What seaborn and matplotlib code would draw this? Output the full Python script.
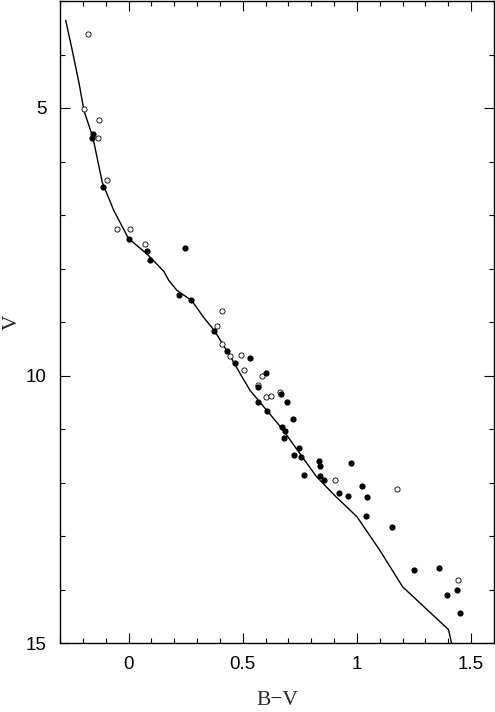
import numpy as np
import pandas as pd
import matplotlib
matplotlib.use("Agg")
import matplotlib.pyplot as plt
import seaborn as sns
from matplotlib.ticker import MultipleLocator

# open circles (B-V, V)
open_bv = [-0.176, -0.195, -0.129, -0.134, -0.096, -0.052, 0.006, 0.070, 0.411, 0.389,
           0.411, 0.445, 0.494, 0.506, 0.584, 0.568, 0.603, 0.622, 0.664, 0.904, 1.174, 1.443]
open_v = [3.61, 5.01, 5.23, 5.56, 6.35, 7.27, 7.27, 7.55, 8.79, 9.07,
          9.41, 9.64, 9.62, 9.90, 10.01, 10.17, 10.41, 10.39, 10.31, 11.96, 12.12, 13.82]

# filled circles
filled_bv = [-0.156, -0.160, -0.113, 0.001, 0.081, 0.092, 0.248, 0.222, 0.275, 0.376,
             0.432, 0.465, 0.530, 0.600, 0.568, 0.668, 0.692, 0.568, 0.607, 0.718,
             0.670, 0.683, 0.680, 0.748, 0.725, 0.757, 0.770, 0.836, 0.840, 0.838,
             0.856, 0.976, 0.921, 0.960, 1.023, 1.043, 1.040, 1.154, 1.251, 1.359,
             1.439, 1.395, 1.450]
filled_v = [5.48, 5.56, 6.47, 7.44, 7.68, 7.84, 7.61, 8.49, 8.58, 9.16,
            9.54, 9.77, 9.67, 9.96, 10.22, 10.34, 10.50, 10.49, 10.66, 10.82,
            10.97, 11.04, 11.16, 11.36, 11.48, 11.52, 11.86, 11.59, 11.70, 11.87,
            11.96, 11.63, 12.20, 12.25, 12.07, 12.27, 12.63, 12.83, 13.64, 13.60,
            14.00, 14.11, 14.44]

# sequence line
seq_bv = [-0.275, -0.246, -0.216, -0.195, -0.156, -0.115, -0.064, 0.0, 0.081, 0.154,
          0.176, 0.212, 0.277, 0.328, 0.376, 0.445, 0.488, 0.532, 0.607, 0.677,
          0.750, 0.823, 0.902, 1.000, 1.099, 1.200, 1.401, 1.414]
seq_v = [3.36, 3.93, 4.55, 5.05, 5.55, 6.39, 6.92, 7.44, 7.73, 8.05,
         8.22, 8.41, 8.60, 8.91, 9.16, 9.64, 9.96, 10.28, 10.66, 11.02,
         11.46, 11.89, 12.24, 12.64, 13.26, 13.95, 14.75, 15.0]

sns.set_style("ticks")
plt.rcParams['font.family'] = ['Liberation Sans', 'DejaVu Sans']

fig = plt.figure(figsize=(4.95, 7.12), dpi=100)
ax = fig.add_axes([60/495, 69/712, 434/495, 642/712])

line_df = pd.DataFrame({"bv": seq_bv, "v": seq_v})
sns.lineplot(data=line_df, x="bv", y="v", sort=False, color="black", lw=1.0, ax=ax)

sns.scatterplot(x=open_bv, y=open_v, ax=ax, s=14, marker="o",
                facecolor="white", edgecolor="black", linewidth=0.6, zorder=3)
sns.scatterplot(x=filled_bv, y=filled_v, ax=ax, s=20, marker="o",
                color="black", linewidth=0, zorder=4)

ax.set_xlim(-0.3, 1.6)
ax.set_ylim(15, 3)

ax.xaxis.set_minor_locator(MultipleLocator(0.1))
ax.yaxis.set_minor_locator(MultipleLocator(1))
ax.set_xticks([0, 0.5, 1, 1.5])
ax.set_xticklabels(["0", "0.5", "1", "1.5"])
ax.set_yticks([5, 10, 15])
ax.set_yticklabels(["5", "10", "15"])

ax.tick_params(which="both", direction="in", top=True, right=True, width=0.8, colors="black")
ax.tick_params(which="major", length=7.5, labelsize=13.5, pad=9.5)
ax.tick_params(which="minor", length=3.6)
for sp in ax.spines.values():
    sp.set_visible(True)
    sp.set_linewidth(1.0)
    sp.set_color("black")

ax.set_xlabel("B\u2212V", family=["Liberation Serif"], fontsize=15.5)
ax.xaxis.set_label_coords(0.5, -0.0745)
ax.set_ylabel("V", family=["Liberation Serif"], fontsize=15.5, va="center")
ax.yaxis.set_label_coords(-0.111, 0.5)

fig.savefig("out.png", dpi=100)
